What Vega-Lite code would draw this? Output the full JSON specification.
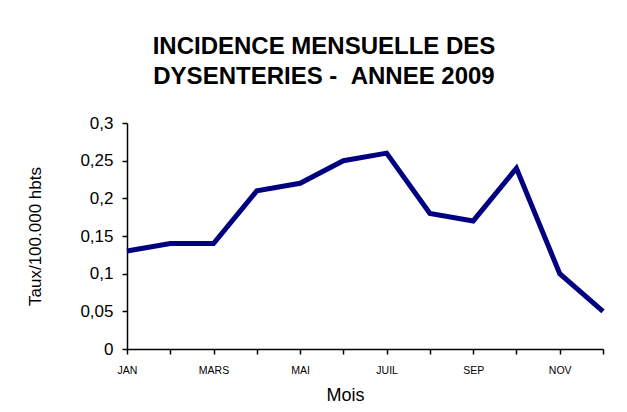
{
  "$schema": "https://vega.github.io/schema/vega-lite/v6.json",
  "width": 476,
  "height": 226,
  "autosize": "none",
  "padding": {"left": 127, "top": 123, "right": 24, "bottom": 63},
  "background": "white",
  "title": {
    "text": ["INCIDENCE MENSUELLE DES", "DYSENTERIES - \u00a0ANNEE 2009"],
    "font": "Liberation Sans",
    "fontSize": 24,
    "fontWeight": "bold",
    "color": "black",
    "anchor": "middle",
    "frame": "group",
    "dx": -41,
    "lineHeight": 30,
    "offset": 25
  },
  "data": {
    "values": [
      {"mois": "JAN", "ordre": 1, "taux": 0.13},
      {"mois": "FEV", "ordre": 2, "taux": 0.14},
      {"mois": "MARS", "ordre": 3, "taux": 0.14},
      {"mois": "AVR", "ordre": 4, "taux": 0.21},
      {"mois": "MAI", "ordre": 5, "taux": 0.22},
      {"mois": "JUIN", "ordre": 6, "taux": 0.25},
      {"mois": "JUIL", "ordre": 7, "taux": 0.26},
      {"mois": "AOUT", "ordre": 8, "taux": 0.18},
      {"mois": "SEP", "ordre": 9, "taux": 0.17},
      {"mois": "OCT", "ordre": 10, "taux": 0.24},
      {"mois": "NOV", "ordre": 11, "taux": 0.10},
      {"mois": "DEC", "ordre": 12, "taux": 0.05}
    ]
  },
  "mark": {"type": "line", "color": "#000080", "strokeWidth": 5, "strokeJoin": "miter", "strokeCap": "butt"},
  "encoding": {
    "x": {
      "field": "mois",
      "type": "ordinal",
      "sort": {"field": "ordre"},
      "scale": {"type": "point", "padding": 0},
      "axis": {
        "title": "Mois",
        "titleFont": "Liberation Sans",
        "titleFontSize": 18,
        "titleFontWeight": "normal",
        "titleColor": "black",
        "titlePadding": 11,
        "titleX": 218,
        "labelAngle": 0,
        "labelFont": "Liberation Sans",
        "labelFontSize": 10.5,
        "labelColor": "black",
        "labelPadding": 11,
        "labelOverlap": false,
        "labelExpr": "indexof(['JAN','MARS','MAI','JUIL','SEP','NOV'], datum.value) >= 0 ? datum.value : ''",
        "domainColor": "black",
        "domainWidth": 1.5,
        "tickColor": "black",
        "tickWidth": 1.5,
        "tickSize": 5,
        "grid": false
      }
    },
    "y": {
      "field": "taux",
      "type": "quantitative",
      "scale": {"domain": [0, 0.3], "nice": false},
      "axis": {
        "title": "Taux/100.000 hbts",
        "titleFont": "Liberation Sans",
        "titleFontSize": 17,
        "titleFontWeight": "normal",
        "titleColor": "black",
        "titlePadding": 35,
        "values": [0, 0.05, 0.1, 0.15, 0.2, 0.25, 0.3],
        "labelExpr": "replace(format(datum.value, '.2~f'), '.', ',')",
        "labelFont": "Liberation Sans",
        "labelFontSize": 17,
        "labelColor": "black",
        "labelPadding": 9,
        "domainColor": "black",
        "domainWidth": 1.5,
        "tickColor": "black",
        "tickWidth": 1.5,
        "tickSize": 5,
        "grid": false
      }
    }
  },
  "config": {"view": {"stroke": null}}
}
